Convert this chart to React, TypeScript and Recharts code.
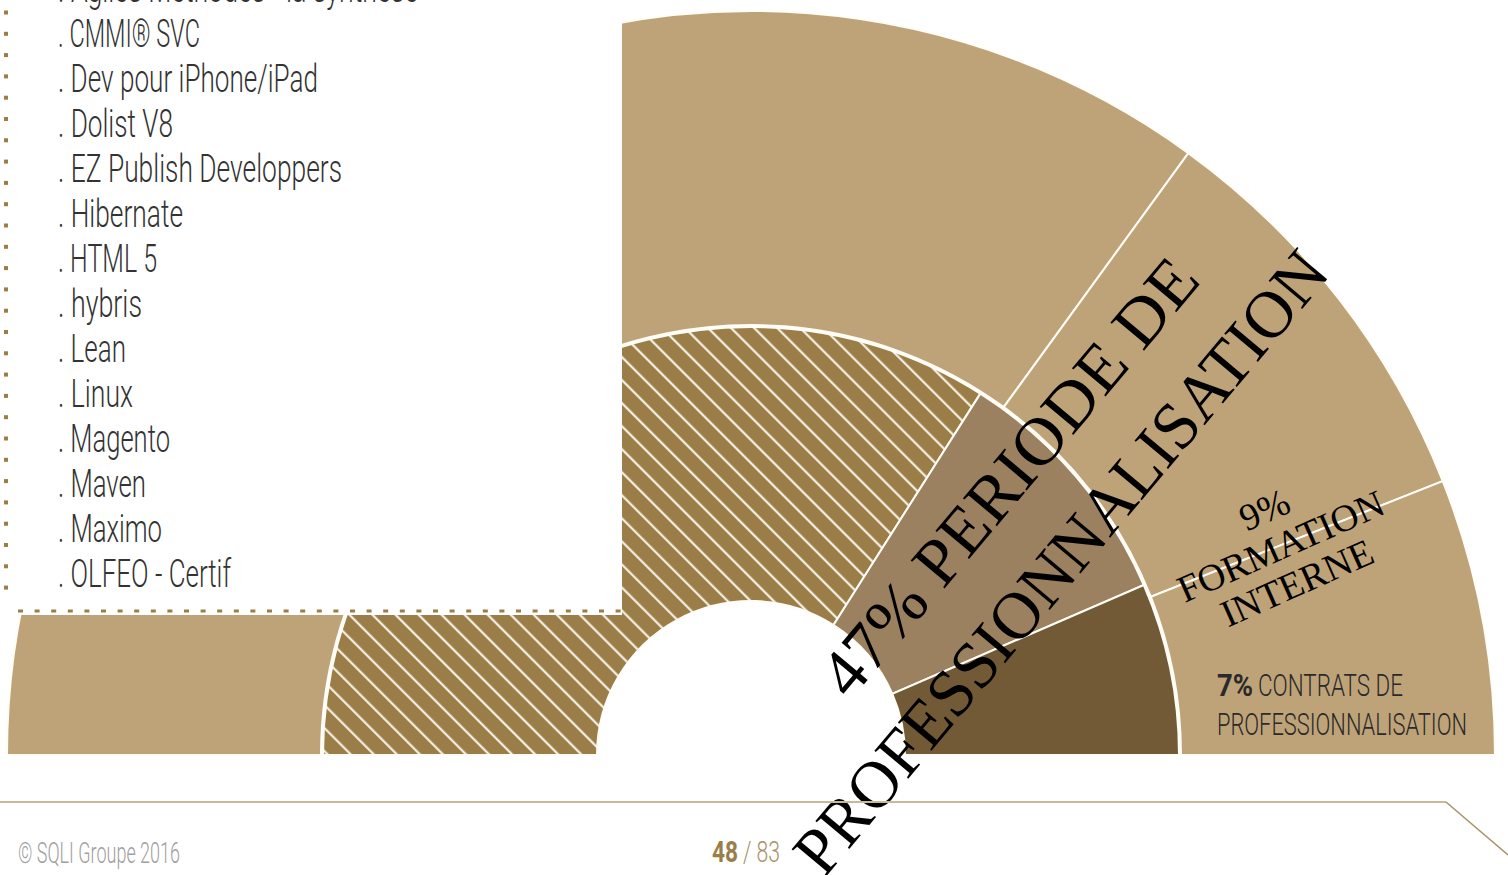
import React from 'react';
import { PieChart, Pie, Cell } from 'recharts';

// ---- data ----
const innerCategories = ['Plan de formation', 'Période de professionnalisation', 'Contrats de professionnalisation'];
const innerValues = [68, 19, 13];
const outerCategories = ['Plan de formation', 'Formation interne', 'Contrats de professionnalisation'];
const outerValues = [70, 18, 12];

const courseLabels = [
  '. Agiles Méthodes - la synthèse',
  '. CMMI® SVC',
  '. Dev pour iPhone/iPad',
  '. Dolist V8',
  '. EZ Publish Developpers',
  '. Hibernate',
  '. HTML 5',
  '. hybris',
  '. Lean',
  '. Linux',
  '. Magento',
  '. Maven',
  '. Maximo',
  '. OLFEO - Certif',
];

const label47 = ['47% PERIODE DE', 'PROFESSIONNALISATION'];
const label9 = ['9%', 'FORMATION', 'INTERNE'];
const label7Pct = '7%';
const label7Lines = ['CONTRATS DE', 'PROFESSIONNALISATION'];
const footerCopyright = '© SQLI Groupe 2016';
const footerPage = '48';
const footerTotal = '/ 83';

// ---- layout (styles/sizes) ----
const courseTextWidths = [360, 142, 260, 115, 284, 125, 99, 84, 68, 75, 112, 88, 104, 173];
const innerFills = ['url(#hatch)', '#9B8160', '#735A36'];
const outerFills = ['#BFA378', '#BFA378', '#BFA378'];

const innerData = innerCategories.map((name, i) => ({ name, value: innerValues[i] }));
const outerData = outerCategories.map((name, i) => ({ name, value: outerValues[i] }));

const W = 1508;
const H = 875;
const CX = 751;
const CY = 755;

const listFont = 'Roboto, "DejaVu Sans", sans-serif';
const serifFont = '"Liberation Serif", "Times New Roman", serif';

export default function App() {
  const squares = [];
  for (let k = 0; k < 28; k++) {
    squares.push(<rect key={'s' + k} x={4} y={10.5 + 21.3 * k} width={4} height={4} fill="#9B7D48" />);
  }
  const dashes = [];
  for (let k = 0; k < 37; k++) {
    dashes.push(<rect key={'d' + k} x={18 + 16.6 * k} y={609.5} width={5} height={3} fill="#9B7D48" />);
  }

  return (
    <div style={{ position: 'absolute', left: 0, top: 0, width: W, height: H, background: '#fff', overflow: 'hidden' }}>
      <svg width={0} height={0} style={{ position: 'absolute' }}>
        <defs>
          <pattern id="hatch" patternUnits="userSpaceOnUse" width={16.3} height={16.3} patternTransform="rotate(-45)">
            <rect x={0} y={0} width={16.3} height={16.3} fill="#9B7D48" />
            <line x1={8} y1={-1} x2={8} y2={17.3} stroke="#FFFDF6" strokeWidth={2} />
          </pattern>
        </defs>
      </svg>
      <div style={{ position: 'absolute', left: 0, top: 0 }}>
        <PieChart width={W} height={H} margin={{ top: 0, right: 0, bottom: 0, left: 0 }}>
          <Pie
            data={innerData}
            dataKey="value"
            nameKey="name"
            cx={CX}
            cy={CY}
            innerRadius={154}
            outerRadius={428}
            startAngle={180}
            endAngle={0}
            stroke="#FFFDF6"
            strokeWidth={2}
            isAnimationActive={false}
          >
            {innerData.map((d, i) => (
              <Cell key={d.name + i} fill={innerFills[i]} />
            ))}
          </Pie>
          <Pie
            data={outerData}
            dataKey="value"
            nameKey="name"
            cx={CX}
            cy={CY}
            innerRadius={430}
            outerRadius={744}
            startAngle={180}
            endAngle={0}
            stroke="#FFFDF6"
            strokeWidth={2}
            isAnimationActive={false}
          >
            {outerData.map((d, i) => (
              <Cell key={d.name + i} fill={outerFills[i]} />
            ))}
          </Pie>
        </PieChart>
      </div>
      <svg width={W} height={H} style={{ position: 'absolute', left: 0, top: 0 }}>
        {/* white list box */}
        <rect x={0} y={0} width={622} height={615} fill="#fff" />
        {squares}
        {dashes}
        {courseLabels.map((t, i) => (
          <text
            key={t}
            x={58}
            y={2 + 45 * i}
            fontFamily={listFont}
            fontWeight={300}
            fontSize={38}
            fill="#333"
            textLength={courseTextWidths[i]}
            lengthAdjust="spacingAndGlyphs"
          >
            {t}
          </text>
        ))}

        {/* slice labels */}
        <text
          x={850}
          y={701}
          transform="rotate(-50, 850, 701)"
          fontFamily={serifFont}
          fontSize={67}
          fill="#000"
          textLength={548}
          lengthAdjust="spacingAndGlyphs"
        >
          {label47[0]}
        </text>
        <text
          x={824}
          y={879}
          transform="rotate(-50, 824, 879)"
          fontFamily={serifFont}
          fontSize={67}
          fill="#000"
          textLength={790}
          lengthAdjust="spacingAndGlyphs"
        >
          {label47[1]}
        </text>
        <g transform="rotate(-24, 1286, 558)">
          {label9.map((t, i) => (
            <text key={t} x={1286} y={518 + 40 * i} textAnchor="middle" fontFamily={serifFont} fontSize={38} fill="#000">
              {t}
            </text>
          ))}
        </g>
        <text x={1217} y={696} fontFamily={listFont} fontWeight={700} fontSize={31} fill="#2a2a2a" textLength={36} lengthAdjust="spacingAndGlyphs">
          {label7Pct}
        </text>
        <text x={1258} y={696} fontFamily={listFont} fontWeight={300} fontSize={31} fill="#2a2a2a" textLength={145} lengthAdjust="spacingAndGlyphs">
          {label7Lines[0]}
        </text>
        <text x={1217} y={735} fontFamily={listFont} fontWeight={300} fontSize={31} fill="#2a2a2a" textLength={250} lengthAdjust="spacingAndGlyphs">
          {label7Lines[1]}
        </text>

        {/* footer */}
        <line x1={0} y1={802} x2={1446} y2={802} stroke="#C9B99A" strokeWidth={2} />
        <line x1={1446} y1={802} x2={1508} y2={855} stroke="#A8906A" strokeWidth={1.5} />
        <text x={18} y={863} fontFamily={listFont} fontWeight={300} fontSize={29} fill="#A0A0A0" textLength={162} lengthAdjust="spacingAndGlyphs">
          {footerCopyright}
        </text>
        <text x={712} y={862} fontFamily={listFont} fontWeight={700} fontSize={29} fill="#9B7D48" textLength={26} lengthAdjust="spacingAndGlyphs">
          {footerPage}
        </text>
        <text x={743} y={862} fontFamily={listFont} fontWeight={300} fontSize={29} fill="#A8906A" textLength={37} lengthAdjust="spacingAndGlyphs">
          {footerTotal}
        </text>
      </svg>
    </div>
  );
}
